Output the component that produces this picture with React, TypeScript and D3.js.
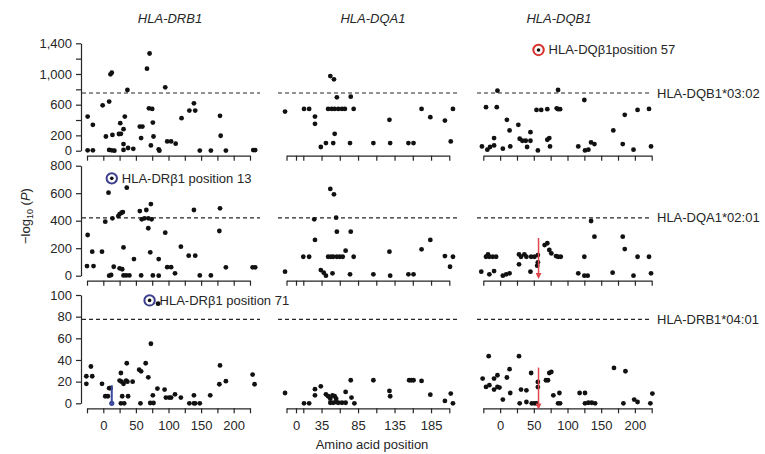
import React, {useEffect, useRef} from 'react';
import * as d3 from 'd3';

// column genes and the allele each row is conditioned on
const genes = ['HLA-DRB1', 'HLA-DQA1', 'HLA-DQB1'];
const conditioned = ['HLA-DQB1*03:02', 'HLA-DQA1*02:01', 'HLA-DRB1*04:01'];
const thresholds = [752, 420, 77.5];

const yMax = [1400, 800, 100];
const yTickStep = [200, 200, 20];
const yTickLabels = [[0, 200, 600, 1000, 1400], [0, 200, 400, 600, 800], [0, 20, 40, 60, 80, 100]];

const xDomains = [[-25, 225], [-13, 210], [-25, 225]];
const xTicks = [
    [-25, 0, 25, 50, 75, 100, 125, 150, 175, 200, 225],
    [-13, 0, 10, 35, 60, 85, 110, 135, 160, 185, 210],
    [-25, 0, 25, 50, 75, 100, 125, 150, 175, 200, 225],
];
const xTickLabels = [[0, 50, 100, 150, 200], [0, 35, 85, 135, 185], [0, 50, 100, 150, 200]];

// [amino acid position, -log10 P]
const drb1Row1 = [[-24, 445], [-16, 337], [-24, 5], [-16, 5], [-1, 592], [4, 185], [9, 640], [11, 995], [13, 1017], [14, 205], [9, 10], [13, 5], [17, 0], [26, 359], [27, 220], [24, 218], [31, 281], [33, 445], [31, 87], [31, 10], [38, 35], [46, 25], [37, 791], [56, 315], [60, 315], [58, 165], [67, 1069], [71, 1267], [70, 553], [75, 545], [76, 367], [73, 69], [77, 185], [85, 18], [86, 0], [95, 826], [98, 121], [104, 121], [111, 91], [120, 424], [132, 523], [141, 523], [139, 617], [148, 2], [165, 2], [179, 454], [180, 195], [188, 2], [230, 8], [233, 8]];
const dqa1Row1 = [[-15, 510], [11, 545], [18, 545], [26, 445], [26, 350], [34, 48], [41, 100], [47, 973], [52, 930], [56, 696], [44, 545], [49, 545], [53, 545], [58, 545], [63, 545], [67, 545], [53, 220], [51, 100], [75, 704], [74, 100], [79, 545], [106, 100], [128, 402], [129, 100], [154, 100], [161, 100], [172, 545], [184, 437], [204, 393], [215, 545], [212, 121]];
const dqb1Row1 = [[-4, 782], [-21, 567], [-5, 567], [-27, 56], [-19, 13], [-15, 48], [-9, 69], [-9, 165], [4, 26], [10, 402], [14, 264], [15, 56], [27, 337], [29, 156], [33, 130], [38, 130], [45, 130], [40, 48], [45, 242], [56, 4], [54, 532], [61, 532], [70, 541], [70, 143], [73, 165], [74, 56], [84, 553], [86, 541], [89, 541], [86, 791], [116, 56], [125, 661], [126, 4], [131, 13], [135, 108], [140, 87], [168, 264], [182, 87], [185, 467], [198, 13], [204, 532], [221, 545], [224, 56]];

const drb1Row2 = [[-24, 296], [-25, 70], [-15, 70], [-17, 175], [-2, 175], [9, 0], [12, 5], [8, 604], [3, 393], [14, 417], [16, 65], [23, 434], [25, 448], [28, 458], [30, 463], [25, 54], [29, 47], [31, 206], [31, 2], [35, 2], [40, 2], [36, 640], [47, 121], [56, 470], [59, 410], [58, 2], [66, 478], [69, 345], [63, 417], [69, 417], [74, 410], [73, 521], [72, 170], [76, 2], [85, 0], [85, 121], [95, 313], [98, 62], [104, 62], [110, 17], [119, 211], [131, 146], [141, 146], [139, 478], [148, 2], [165, 2], [179, 490], [178, 325], [188, 61], [229, 61], [233, 61]];
const dqa1Row2 = [[-15, 29], [10, 138], [18, 138], [25, 410], [26, 260], [34, 41], [38, 22], [41, 0], [47, 631], [52, 592], [50, 17], [55, 422], [56, 320], [44, 138], [48, 138], [51, 138], [56, 138], [60, 138], [64, 138], [68, 182], [75, 320], [74, 10], [79, 138], [106, 10], [128, 175], [129, 0], [154, 10], [161, 10], [172, 192], [184, 260], [204, 143], [215, 138], [211, 65]];
const dqb1Row2 = [[135, 398], [140, 284], [182, 284], [185, 194], [204, 138], [221, 138], [224, 17], [198, 0], [167, 22], [125, 138], [125, 0], [130, 0], [116, 17], [66, 223], [70, 236], [73, 187], [76, 163], [83, 143], [86, 138], [90, 138], [-21, 138], [-18, 155], [-16, 138], [-11, 138], [-6, 138], [-28, 29], [-16, 10], [-9, 34], [4, 0], [9, 10], [14, 17], [28, 155], [31, 138], [36, 155], [39, 138], [46, 138], [51, 138], [56, 150], [28, 83], [45, 29], [55, 73], [56, 97]];

const drb1Row3 = [[-26, 25], [-17, 25], [-26, 18], [-19, 34], [-2, 18], [3, 6.5], [7, 6.5], [9, 14], [11, 14], [25, 21], [27, 28], [28, 20], [31, 18], [35, 21], [37, 20], [29, 6.5], [38, 6.5], [27, 0], [32, 0], [36, 37], [45, 20], [55, 31], [58, 29.5], [57, 0], [65, 37], [69, 24], [73, 55], [72, 0.3], [77, 0.3], [76, 7.4], [83, 13.6], [94, 12.7], [96, 5.3], [101, 5.3], [104, 5.3], [110, 8.3], [119, 5.3], [132, 0], [139, 0], [141, 0], [148, 0], [139, 7.4], [164, 7.4], [179, 35], [178, 17.6], [188, 20.4], [229, 26.5], [232, 17.6], [84, 92]];
const dqa1Row3 = [[-15, 9.5], [11, 0], [18, 0], [26, 13], [26, 7.4], [34, 15.7], [41, 8.3], [44, 6.5], [47, 4.3], [47, 0.5], [51, 0.5], [55, 1], [58, 0.5], [63, 0.5], [68, 0.5], [50, 7.4], [53, 6.5], [55, 4.3], [68, 10.5], [75, 21.3], [76, 5.3], [80, 0], [106, 21.3], [128, 11.4], [129, 6.5], [155, 21.3], [158, 21.3], [161, 21.3], [172, 20.7], [184, 8], [204, 2.2], [212, 9], [215, 0]];
const dqb1Row3 = [[-26, 22.8], [-17, 43.5], [-21, 15.1], [-16, 16.7], [-9, 12.7], [-4, 15.1], [-1, 14.5], [-9, 22.8], [-4, 25.9], [4, 3.4], [10, 23.8], [14, 31.5], [15, 9.5], [28, 43.5], [29, 0], [31, 12.7], [39, 12], [39, 1.2], [46, 28], [47, 0], [51, 0], [54, 0], [56, 19.7], [56, 15], [68, 21.3], [71, 21.3], [73, 28], [76, 29], [79, 7.4], [88, 9.5], [86, 0], [89, 0], [118, 9.5], [126, 9.5], [126, 0], [131, 0.5], [136, 0.5], [141, 0], [169, 32.7], [186, 29.6], [183, 0], [199, 3.4], [204, 1.2], [223, 0], [226, 9]];

const panels = [
    [drb1Row1, dqa1Row1, dqb1Row1],
    [drb1Row2, dqa1Row2, dqb1Row2],
    [drb1Row3, dqa1Row3, dqb1Row3],
];

// circled lead positions
const rings = [
    {row: 0, col: 2, pos: 57, val: 1313, color: '#d8312c', label: 'HLA-DQβ1position 57'},
    {row: 1, col: 0, pos: 13, val: 708, color: '#3c3f8e', label: 'HLA-DRβ1 position 13'},
    {row: 2, col: 0, pos: 71, val: 95, color: '#3c3f8e', label: 'HLA-DRβ1 position 71'},
];
// vertical markers
const markers = [
    {row: 1, col: 2, pos: 57, from: 274, to: -10, color: '#e0474c', arrow: true},
    {row: 2, col: 2, pos: 57, from: 33, to: -4, color: '#e0474c', arrow: true},
    {row: 2, col: 0, pos: 13, from: 16.7, to: 0, color: '#3c4a9c', arrow: false},
];

const App = () => {
    const ref = useRef<SVGSVGElement>(null);

    useEffect(() => {
        const svg = d3.select(ref.current);
        svg.selectAll('*').remove();

        const font = '"Liberation Sans", Arial, Helvetica, sans-serif';
        const ink = '#262626';

        const colRanges = [[87, 250], [286.5, 449.3], [483.3, 651.7]];
        const rowRanges = [[150.7, 43.3], [275.7, 165.7], [403.3, 295]];
        const dashExtents = [[82, 260], [278, 458], [477, 652]];
        const headerX = [170, 373, 559];

        const xs = colRanges.map((r, i) => d3.scaleLinear().domain(xDomains[i]).range(r));
        const ys = rowRanges.map((r, i) => d3.scaleLinear().domain([0, yMax[i]]).range(r));

        const defs = svg.append('defs');
        defs.append('marker')
            .attr('id', 'arrowRed')
            .attr('viewBox', '0 0 10 10')
            .attr('refX', 7).attr('refY', 5)
            .attr('markerWidth', 4).attr('markerHeight', 4)
            .attr('orient', 'auto')
            .append('path')
            .attr('d', 'M0,0 L10,5 L0,10 Z')
            .attr('fill', '#e0474c');

        // gene headers
        genes.forEach((g, i) => {
            svg.append('text')
                .attr('x', headerX[i]).attr('y', 23)
                .attr('text-anchor', 'middle')
                .attr('font-family', font).attr('font-size', 13)
                .attr('font-style', 'italic').attr('fill', ink)
                .text(g);
        });

        ys.forEach((y, r) => {
            // y axis on the left column only
            const yAxis = d3.axisLeft(y)
                .tickValues(d3.range(0, yMax[r] + 1, yTickStep[r]))
                .tickSize(5).tickSizeOuter(0).tickPadding(4)
                .tickFormat(d => yTickLabels[r].includes(+d) ? d3.format(',')(+d) : '');
            const ga = svg.append('g').attr('transform', 'translate(81,0)').call(yAxis);
            ga.selectAll('path,line').attr('stroke', ink).attr('stroke-width', 1.2);
            ga.selectAll('text').attr('font-family', font).attr('font-size', 13).attr('fill', ink);

            xs.forEach((x, c) => {
                const xAxis = d3.axisBottom(x)
                    .tickValues(xTicks[c])
                    .tickSize(5).tickSizeOuter(0).tickPadding(7)
                    .tickFormat(d => r === 2 && xTickLabels[c].includes(+d) ? String(d) : '');
                const gx = svg.append('g')
                    .attr('transform', `translate(0,${y(0) + 5})`)
                    .call(xAxis);
                gx.selectAll('path,line').attr('stroke', ink).attr('stroke-width', 1.2);
                gx.selectAll('text').attr('font-family', font).attr('font-size', 13).attr('fill', ink);

                // significance threshold
                svg.append('line')
                    .attr('x1', dashExtents[c][0]).attr('x2', dashExtents[c][1])
                    .attr('y1', y(thresholds[r])).attr('y2', y(thresholds[r]))
                    .attr('stroke', ink).attr('stroke-width', 1.2)
                    .attr('stroke-dasharray', '4,3');

                svg.append('g').selectAll('circle')
                    .data(panels[r][c])
                    .enter().append('circle')
                    .attr('cx', d => x(d[0]))
                    .attr('cy', d => y(d[1]))
                    .attr('r', 2.4)
                    .attr('fill', '#111');
            });

            svg.append('text')
                .attr('x', 657).attr('y', y(thresholds[r]) + 4.5)
                .attr('font-family', font).attr('font-size', 13).attr('fill', ink)
                .text(conditioned[r]);
        });

        markers.forEach(m => {
            const x = xs[m.col](m.pos);
            svg.append('line')
                .attr('x1', x).attr('x2', x)
                .attr('y1', ys[m.row](m.from)).attr('y2', ys[m.row](m.to))
                .attr('stroke', m.color).attr('stroke-width', m.arrow ? 1.5 : 2)
                .attr('marker-end', m.arrow ? 'url(#arrowRed)' : null);
            if (!m.arrow) {
                svg.append('circle')
                    .attr('cx', x).attr('cy', ys[m.row](m.to))
                    .attr('r', 2.6).attr('fill', m.color);
            }
        });

        rings.forEach(a => {
            const cx = xs[a.col](a.pos);
            const cy = ys[a.row](a.val);
            svg.append('circle')
                .attr('cx', cx).attr('cy', cy).attr('r', 5.2)
                .attr('fill', 'none').attr('stroke', a.color).attr('stroke-width', 2);
            svg.append('circle')
                .attr('cx', cx).attr('cy', cy).attr('r', 1.8).attr('fill', '#111');
            svg.append('text')
                .attr('x', cx + 10).attr('y', cy + 4.5)
                .attr('font-family', font).attr('font-size', 13).attr('fill', ink)
                .text(a.label);
        });

        // y axis title
        const yt = svg.append('text')
            .attr('transform', 'translate(30,216) rotate(-90)')
            .attr('text-anchor', 'middle')
            .attr('font-family', font).attr('font-size', 13).attr('fill', ink);
        yt.append('tspan').text('−log');
        yt.append('tspan').attr('font-size', 9).attr('dy', 3).text('10');
        yt.append('tspan').attr('dy', -3).text(' (');
        yt.append('tspan').attr('font-style', 'italic').text('P');
        yt.append('tspan').text(')');

        svg.append('text')
            .attr('x', 372).attr('y', 449)
            .attr('text-anchor', 'middle')
            .attr('font-family', font).attr('font-size', 13).attr('fill', ink)
            .text('Amino acid position');
    }, []);

    return (
        <svg ref={ref} width={765} height={454}
             style={{position: 'absolute', left: 0, top: 0, background: '#fff'}}/>
    );
};

export default App;
